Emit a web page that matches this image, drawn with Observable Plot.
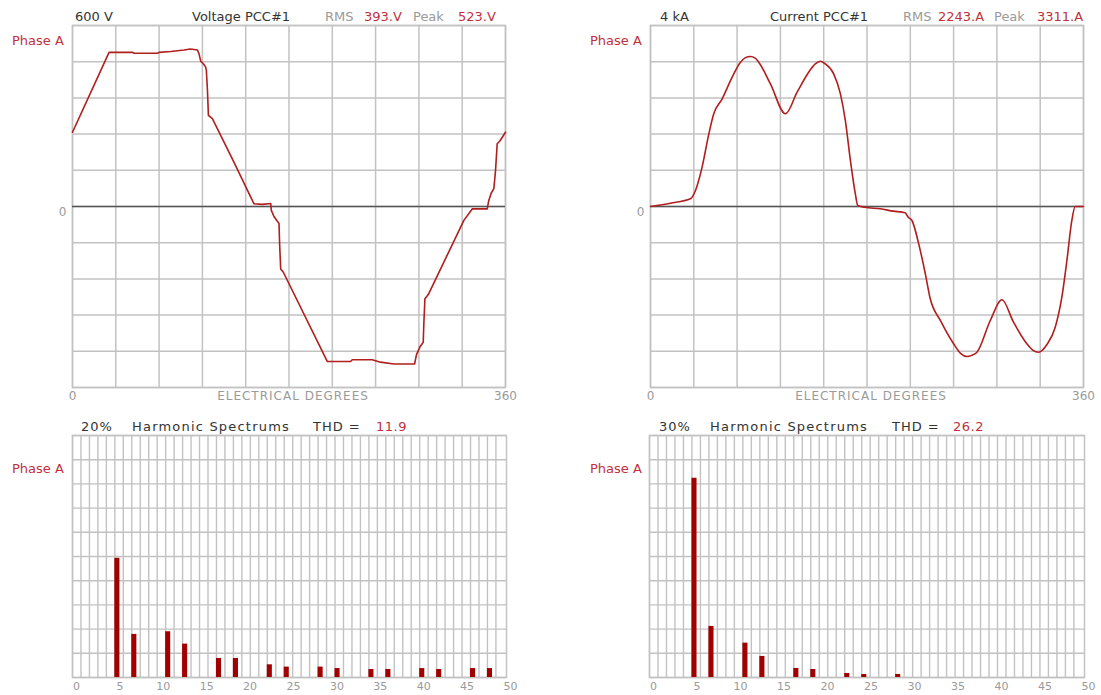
<!DOCTYPE html>
<html><head><meta charset="utf-8">
<script src="https://cdn.jsdelivr.net/npm/d3@7"></script>
<script src="https://cdn.jsdelivr.net/npm/@observablehq/plot@0.6"></script>
<style>
body{margin:0;background:#fff;}
#wrap{position:relative;width:1101px;height:695px;overflow:hidden;background:#fff;font-family:"DejaVu Sans",sans-serif;}
.p{position:absolute;}
.t{position:absolute;white-space:nowrap;font-size:13px;line-height:13px;color:#333;}
.g{color:#9a9a9a}.r{color:#c0303a}
</style></head><body><div id="wrap"></div>
<script>
// ---- Voltage waveform (degrees, volts) ----
const voltDeg = [0,30.4,50,51.2,70.6,72,81.7,92.7,98,103.9,105.2,106.6,108.8,110.7,111.3,112.2,113,116.3,134.3,150.9,158,164.8,165.3,167.5,170.3,171.7,172.2,173.1,175.3,211.9,231.2,232.6,249.2,256.1,267.2,284.4,286,288.8,291.6,292.1,293,295.8,325.4,332.3,344.8,346.1,348.1,350.3,351.7,353.1,355.3,360];
const voltV = [246,511,511,508,508,511,514,519,522,519,506,482,473,462,451,385,302,291,146,9,7,10,-13,-33,-49,-56,-124,-207,-218,-514,-514,-508,-508,-516,-522,-522,-491,-466,-450,-389,-306,-292,-46,-8,-8,20,44,59,119,208,217,246];
// ---- Current waveform (degrees, amps) ----
const currDeg = [0,16.6,33.2,37.4,42.9,48.5,52.6,59.6,67.9,74.8,79,83.1,87,90,99.7,112.2,121.9,131.5,137,141.2,144.9,152.3,157.9,162,166.2,170.3,172.3,178,191,202,211.6,214.3,217.4,223,228.5,232.6,241,252,258,263.1,267,271.4,282.5,292.2,301.8,312.9,318,322.6,329.6,336.5,342,346.2,350.3,353.1,360];
const currA = [0,73,170,354,869,1606,2049,2380,2858,3189,3290,3315,3280,3189,2711,2049,2526,2968,3150,3210,3160,2932,2490,1900,1017,280,22,-15,-51,-103,-140,-236,-309,-825,-1488,-2040,-2519,-3034,-3250,-3315,-3290,-3220,-2519,-2062,-2556,-3034,-3180,-3220,-3050,-2667,-2004,-1193,-309,0,0];
// ---- Harmonic spectra (% of fundamental) ----
const voltHarm = [5,7,11,13,17,19,23,25,29,31,35,37,41,43,47,49];
const voltHarmPct = [9.85,3.56,3.78,2.76,1.57,1.57,1.05,0.86,0.86,0.74,0.66,0.66,0.74,0.66,0.74,0.74];
const currHarm = [5,7,11,13,17,19,23,25,29];
const currHarmPct = [24.7,6.33,4.26,2.61,1.12,0.99,0.50,0.37,0.37];
const harmTickLabels = [0,5,10,15,20,25,30,35,40,45,50];
const degTickLabels = [0,360];
const voltFull = 600, currFull = 4000, voltSpecFull = 20, currSpecFull = 30;

const GRID = "#c2c2c2", RED = "#b01e1e", BAR = "#a00000", LBL = "#9a9a9a";
const wrap = document.getElementById("wrap");

function place(node, left, top) {
  node.classList.add("p");
  node.style.left = left + "px"; node.style.top = top + "px";
  wrap.appendChild(node);
  return node;
}

function wave(deg, val, ymax, left) {
  const data = deg.map((d, i) => ({d, v: val[i]}));
  const svg = Plot.plot({
    width: 530, height: 405, marginLeft: 72, marginRight: 25, marginTop: 25, marginBottom: 18,
    x: {domain: [0, 360]},
    y: {domain: [-ymax, ymax]},
    style: {background: "transparent", fontFamily: "DejaVu Sans, sans-serif", fontSize: "12px"},
    marks: [
      Plot.gridX(d3.range(0, 11).map(k => k * 36), {stroke: GRID, strokeOpacity: 1, strokeWidth: 1.5}),
      Plot.gridY(d3.range(-5, 6).map(k => k * ymax / 5), {stroke: GRID, strokeOpacity: 1, strokeWidth: 1.5}),
      Plot.frame({stroke: GRID, strokeWidth: 1.5}),
      Plot.ruleY([0], {stroke: "#555", strokeWidth: 1.4}),
      Plot.line(data, {x: "d", y: "v", stroke: RED, strokeWidth: 1.6, curve: ymax > 1000 ? "monotone-x" : "linear"}),
      Plot.axisX(degTickLabels, {tickSize: 0, tickPadding: 4, color: LBL, fontSize: 12, label: null}),
      Plot.axisY([0], {tickSize: 0, tickPadding: 6, dy: 6, color: LBL, fontSize: 12, label: null}),
      Plot.text(["ELECTRICAL DEGREES"], {frameAnchor: "bottom", lineAnchor: "top", dy: 4, dx: 4, fill: LBL, fontSize: 12})
    ]
  });
  d3.select(svg).selectAll("text").filter(function() { return this.textContent === "ELECTRICAL DEGREES"; })
    .attr("letter-spacing", "1px");
  place(svg, left, 0);
}

function spectrum(h, pct, ymax, left, ml) {
  const data = h.map((k, i) => ({h: k, v: pct[i]}));
  const svg = Plot.plot({
    width: 530, height: 290, marginLeft: ml, marginRight: 24, marginTop: 30, marginBottom: 18,
    x: {domain: [0, 51.25], axis: null},
    y: {domain: [0, ymax], axis: null},
    style: {background: "transparent", fontFamily: "DejaVu Sans, sans-serif", fontSize: "11px"},
    marks: [
      Plot.gridX(d3.range(0, 51), {stroke: GRID, strokeOpacity: 1, strokeWidth: 1.4}),
      Plot.gridY(d3.range(0, 11).map(k => k * ymax / 10), {stroke: GRID, strokeOpacity: 1, strokeWidth: 1.4}),
      Plot.frame({stroke: GRID, strokeWidth: 1.5}),
      Plot.rect(data, {x1: "h", x2: d => d.h + 0.6, y1: 0, y2: "v", fill: BAR}),
      Plot.text(harmTickLabels, {x: d => d * 1.025, text: d => String(d), frameAnchor: "bottom", lineAnchor: "top", dy: 5, dx: 4, fill: LBL, fontSize: 11})
    ]
  });
  place(svg, left, 405);
}

wave(voltDeg, voltV, voltFull, 0);
wave(currDeg, currA, currFull, 578);
spectrum(voltHarm, voltHarmPct, voltSpecFull, 0, 72);
spectrum(currHarm, currHarmPct, currSpecFull, 578, 71);

// ---- header texts ----
const headers = [
  ["600 V", 75, 10, ""], ["Voltage PCC#1", 192, 10, ""], ["RMS", 325, 10, "g"], ["393.V", 364, 10, "r"], ["Peak", 413, 10, "g"], ["523.V", 458, 10, "r"],
  ["Phase A", 12, 34, "r"],
  ["4 kA", 660, 10, ""], ["Current PCC#1", 770, 10, ""], ["RMS", 903, 10, "g"], ["2243.A", 938, 10, "r"], ["Peak", 994, 10, "g"], ["3311.A", 1037, 10, "r"],
  ["Phase A", 590, 34, "r"],
  ["20%", 81, 420, "", 1], ["Harmonic Spectrums", 132, 420, "", 1.2], ["THD =", 313, 420, "", 1], ["11.9", 376, 420, "r", 0.5],
  ["Phase A", 12, 462, "r"],
  ["30%", 659, 420, "", 1], ["Harmonic Spectrums", 710, 420, "", 1.2], ["THD =", 892, 420, "", 1], ["26.2", 953, 420, "r", 0.5],
  ["Phase A", 590, 462, "r"]
];
for (const [txt, x, y, cls, ls] of headers) {
  const s = document.createElement("div");
  s.className = "t " + cls;
  s.textContent = txt;
  s.style.left = x + "px"; s.style.top = y + "px";
  if (ls) s.style.letterSpacing = ls + "px";
  wrap.appendChild(s);
}
</script></body></html>
